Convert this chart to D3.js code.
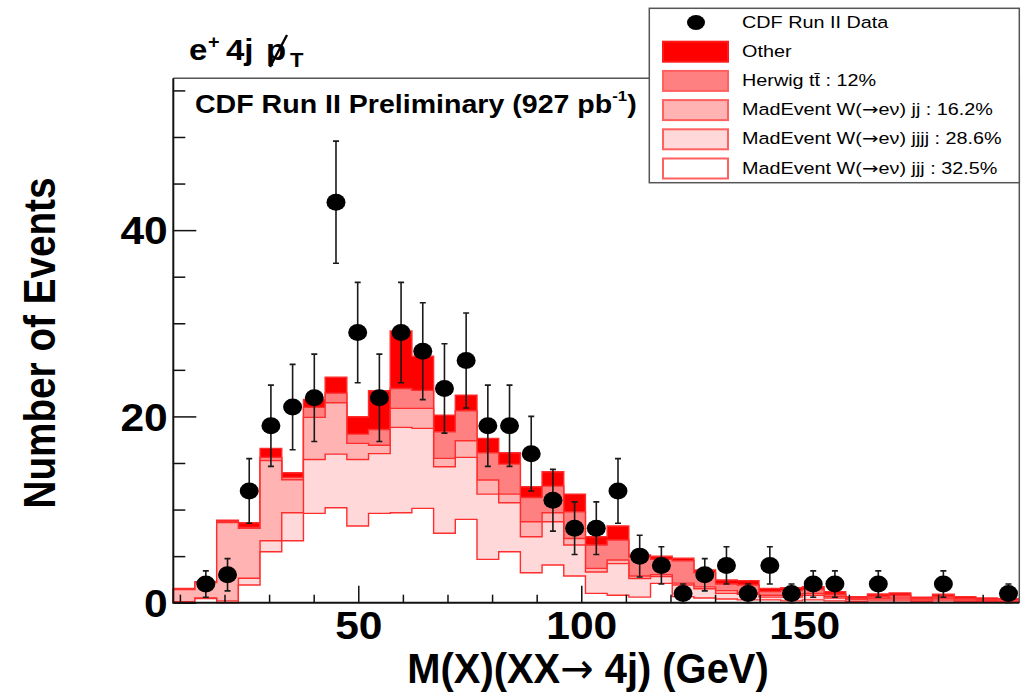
<!DOCTYPE html>
<html>
<head>
<meta charset="utf-8">
<script src="https://cdn.jsdelivr.net/npm/d3@7"></script>
<style>
  body { margin: 0; background: #fff; }
  svg { display: block; }
  text { font-family: "Liberation Sans", Arial, Helvetica, sans-serif; }
</style>
</head>
<body>
<svg id="chart" width="1030" height="694"></svg>
<script>
// Histogram binning of the reconstructed mass (GeV)
const binLow = 8.52;
const binWidth = 4.864;

// Observed events per bin
const dataCounts = [0, 2, 3, 12, 19, 21, 22, 43, 29, 22,
                    29, 27, 23, 26, 19, 19, 16, 11, 8, 8,
                    12, 5, 4, 1, 3, 4, 1, 4, 1, 2,
                    2, 0, 2, 0, 0, 2, 0, 0, 1];

// Expected contributions per bin, listed bottom of the stack first
const wjjj = [0, 0.45, 0, 1.9, 5.47, 6.65, 9.59, 10.2, 8.23, 9.59,
              9.66, 10.13, 7.45, 8.95, 4.65, 5.47, 3.22, 4.05, 2.86, 1.0,
              0.8, 0.6, 2.08, 0.65, 0.5, 0.4, 0.3, 0.3, 0.2, 0.3,
              0.2, 0.1, 0.2, 0.2, 0.1, 0.2, 0.1, 0.05, 0.05];
const wjjjj = [0.1, 0.05, 0.2, 0.72, 1.18, 3.01, 5.79, 5.75, 7.15, 6.41,
               9.16, 8.59, 7.15, 6.65, 7.01, 5.26, 3.86, 4.64, 3.34, 2.3,
               3.4, 2.0, 0.72, 1.25, 1.0, 0.6, 0.6, 0.3, 0.4, 0.5,
               0.3, 0.2, 0.2, 0.2, 0.1, 0.2, 0.1, 0.1, 0.05];
const wjj = [1.3, 1.65, 8.4, 5.38, 8.6, 3.54, 4.52, 5.51, 1.72, 0.9,
             2.04, 2.14, 0.89, 1.78, 1.51, 0.93, 1.61, 0.97, 0.7, 0.39,
             0.38, 0.26, 0.2, 0.2, 0.2, 0.3, 0.2, 0.2, 0.2, 0.2,
             0.2, 0.1, 0.1, 0.2, 0.1, 0.1, 0.1, 0.1, 0.1];
const ttbar = [0.1, 0.05, 0.15, 0.09, 0.35, 0.25, 1.07, 1.04, 1.0, 1.7,
               2.14, 1.94, 2.86, 3.22, 2.93, 3.22, 2.61, 2.86, 2.86, 2.5,
               2.15, 2.04, 1.65, 2.4, 1.5, 0.7, 0.8, 0.4, 0.5, 0.4,
               0.2, 0.1, 0.2, 0.2, 0.15, 0.2, 0.15, 0.1, 0.1];
const other = [0.04, 0.06, 0.12, 0.49, 0.97, 0.5, 0.85, 1.7, 1.86, 4.15,
               6.18, 3.67, 1.79, 1.69, 1.54, 1.22, 1.15, 1.54, 1.9, 0.89,
               1.5, 0.22, 0.35, 0.27, 0.31, 0.44, 0.47, 0.34, 0.3, 0.32,
               0.28, 0.15, 0.24, 0.25, 0.15, 0.2, 0.2, 0.15, 0.12];

const layerKeys = ["wjjj", "wjjjj", "wjj", "ttbar", "other"];
const layerColors = {
  wjjj: "#ffffff",
  wjjjj: "#ffd9d9",
  wjj: "#ffb3b3",
  ttbar: "#ff8080",
  other: "#ff0000"
};

// Legend entries (top to bottom)
const legendLabels = [
  { key: "data", label: "CDF Run II Data" },
  { key: "other", label: "Other" },
  { key: "ttbar", label: "Herwig tt\u0304 : 12%" },
  { key: "wjj", label: "MadEvent W(\u2192e\u03bd) jj : 16.2%" },
  { key: "wjjjj", label: "MadEvent W(\u2192e\u03bd) jjjj : 28.6%" },
  { key: "wjjj", label: "MadEvent W(\u2192e\u03bd) jjj : 32.5%" }
];

const xMajorTicks = [50, 100, 150];
const yMajorTicks = [0, 20, 40];

// ---------------------------------------------------------------
const svg = d3.select("#chart");
const plot = { left: 173.3, right: 1019.3, top: 78.3, bottom: 602.7 };

const nBins = dataCounts.length;
const edges = d3.range(nBins + 1).map(i => binLow + i * binWidth);

const x = d3.scaleLinear().domain([binLow, binLow + nBins * binWidth]).range([plot.left, plot.right]);
const y = d3.scaleLinear().domain([0, 56.3]).range([plot.bottom, plot.top]);

// Stacked expectation
const rows = d3.range(nBins).map(i => ({
  wjjj: wjjj[i], wjjjj: wjjjj[i], wjj: wjj[i], ttbar: ttbar[i], other: other[i]
}));
const stacked = d3.stack().keys(layerKeys)(rows);

const stepPts = s => s.flatMap((d, i) => [[edges[i], d[1]], [edges[i + 1], d[1]]]);
const area = d3.area().x(p => x(p[0])).y0(y(0)).y1(p => y(p[1]));
const outline = d3.line().x(p => x(p[0])).y(p => y(p[1]));

const gStack = svg.append("g");
stacked.slice().reverse().forEach(s => {
  const pts = stepPts(s);
  gStack.append("path")
    .attr("d", area(pts))
    .attr("fill", layerColors[s.key]);
  const line = [[edges[0], 0], ...pts, [edges[nBins], 0]];
  gStack.append("path")
    .attr("d", outline(line))
    .attr("fill", "none")
    .attr("stroke", "#ff2e2e")
    .attr("stroke-width", 1.4);
});

// Frame
svg.append("path")
  .attr("d", `M${plot.left},${plot.top}H${plot.right}V${plot.bottom}`)
  .attr("fill", "none").attr("stroke", "#555").attr("stroke-width", 1.5);

// Axes (ticks point into the frame)
function styleAxis(g) {
  g.select(".domain").remove();
  g.selectAll(".tick line").attr("stroke", "#111").attr("stroke-width", 1.5);
}
svg.append("g")
  .attr("transform", `translate(0,${plot.bottom})`)
  .call(d3.axisBottom(x).tickValues(d3.range(10, 200, 10).filter(v => !xMajorTicks.includes(v)))
    .tickSizeInner(-8).tickSizeOuter(0).tickFormat(""))
  .call(styleAxis);
const xAxisG = svg.append("g")
  .attr("transform", `translate(0,${plot.bottom})`)
  .call(d3.axisBottom(x).tickValues(xMajorTicks).tickSizeInner(-17).tickSizeOuter(0).tickPadding(9))
  .call(styleAxis);
xAxisG.selectAll(".tick text")
  .attr("fill", "#000").attr("font-size", 38).attr("font-weight", "bold")
  .attr("font-family", "Liberation Sans, Arial, sans-serif")
  .attr("transform", "scale(1.12,1)");

svg.append("g")
  .attr("transform", `translate(${plot.left},0)`)
  .call(d3.axisLeft(y).tickValues(d3.range(0, 56, 5).filter(v => !yMajorTicks.includes(v)))
    .tickSizeInner(-12).tickSizeOuter(0).tickFormat(""))
  .call(styleAxis);
const yAxisG = svg.append("g")
  .attr("transform", `translate(${plot.left},0)`)
  .call(d3.axisLeft(y).tickValues(yMajorTicks).tickSizeInner(-23).tickSizeOuter(0).tickPadding(5))
  .call(styleAxis);
yAxisG.selectAll(".tick text")
  .attr("fill", "#000").attr("font-size", 38).attr("font-weight", "bold")
  .attr("font-family", "Liberation Sans, Arial, sans-serif")
  .attr("dy", "0.36em")
  .attr("transform", "scale(1.12,1)");

// Axis lines
svg.append("path")
  .attr("d", `M${plot.left},${plot.top}V${plot.bottom}H${plot.right}`)
  .attr("fill", "none").attr("stroke", "#111").attr("stroke-width", 2);

// Data points with Poisson errors
const pts = dataCounts.map((n, i) => ({ n, c: (edges[i] + edges[i + 1]) / 2 })).filter(d => d.n > 0);
const gData = svg.append("g");
pts.forEach(d => {
  const e = Math.sqrt(d.n);
  const cx = x(d.c), y1 = y(d.n + e), y0 = y(Math.max(0, d.n - e));
  gData.append("path")
    .attr("d", `M${cx},${y1}V${y0}M${cx - 3},${y1}H${cx + 3}M${cx - 3},${y0}H${cx + 3}`)
    .attr("stroke", "#1a1a1a").attr("stroke-width", 1.6).attr("fill", "none");
});
gData.selectAll("ellipse").data(pts).join("ellipse")
  .attr("cx", d => x(d.c)).attr("cy", d => y(d.n))
  .attr("rx", 9.5).attr("ry", 8.5).attr("fill", "#000");

// Write a label, drawing any arrow with a font that has a full-size arrow glyph
function richText(sel, str) {
  str.split(/(\u2192)/).forEach(part => {
    if (!part) return;
    const t = sel.append("tspan").text(part);
    if (part === "\u2192") t.attr("font-family", "DejaVu Sans, sans-serif").attr("font-weight", "normal");
  });
}

// Axis titles
svg.append("text")
  .attr("transform", "translate(55,343) rotate(-90) scale(0.86,1)")
  .attr("text-anchor", "middle")
  .attr("font-size", 45).attr("font-weight", "bold")
  .text("Number of Events");

const xTitle = svg.append("text")
  .attr("transform", "translate(588,683) scale(0.95,1)")
  .attr("text-anchor", "middle")
  .attr("font-size", 42).attr("font-weight", "bold");
richText(xTitle, "M(X)(XX\u2192 4j) (GeV)");

// Channel label: e+ 4j with missing transverse energy
const sx = 1.1;
const ch = svg.append("text")
  .attr("transform", `translate(189,60) scale(${sx},1)`)
  .attr("font-size", 30).attr("font-weight", "bold");
ch.append("tspan").attr("x", 0).text("e");
ch.append("tspan").attr("x", 19 / sx).attr("font-size", 18).attr("dy", -12).text("+");
ch.append("tspan").attr("x", 37 / sx).attr("dy", 12).text("4j");
ch.append("tspan").attr("x", 77 / sx).text("p");
ch.append("tspan").attr("x", 101 / sx).attr("font-size", 20).attr("dy", 7).text("T");
// slash through the p
svg.append("line")
  .attr("x1", 270).attr("y1", 67).attr("x2", 287).attr("y2", 35)
  .attr("stroke", "#000").attr("stroke-width", 2.4);

// Experiment label
const cdf = svg.append("text")
  .attr("transform", "translate(195,113) scale(1.12,1)")
  .attr("font-size", 25.5).attr("font-weight", "bold");
cdf.append("tspan").text("CDF Run II Preliminary (927 pb");
cdf.append("tspan").attr("font-size", 15).attr("dy", -12).text("-1");
cdf.append("tspan").attr("dy", 12).text(")");

// Legend
const lg = svg.append("g");
lg.append("rect")
  .attr("x", 649.3).attr("y", 8.3).attr("width", 370).attr("height", 174.4)
  .attr("fill", "#fff").attr("stroke", "#555").attr("stroke-width", 1.5);
legendLabels.forEach((d, i) => {
  const rowY = 22.5 + i * 29.2;
  if (d.key === "data") {
    lg.append("ellipse").attr("cx", 696).attr("cy", rowY)
      .attr("rx", 9).attr("ry", 7.5).attr("fill", "#000");
  } else {
    lg.append("rect")
      .attr("x", 663).attr("y", rowY - 10).attr("width", 65).attr("height", 20)
      .attr("fill", layerColors[d.key])
      .attr("stroke", d.key === "other" ? "#ff1a1a" : "#ff6060")
      .attr("stroke-width", 2);
  }
  const t = lg.append("text")
    .attr("transform", `translate(742,${rowY + 5}) scale(1.2,1)`)
    .attr("font-size", 16.5);
  richText(t, d.label);
});
</script>
</body>
</html>
